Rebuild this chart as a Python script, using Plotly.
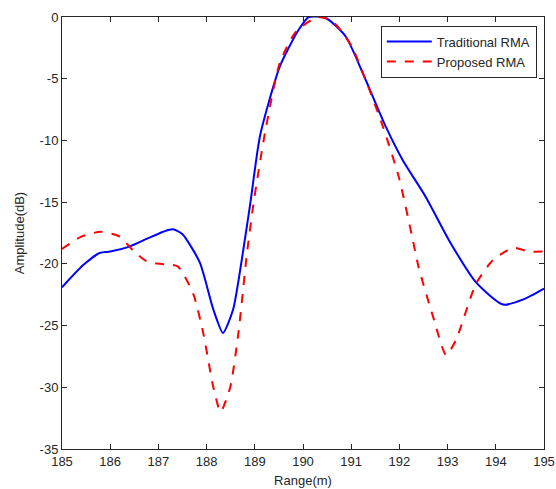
import plotly.graph_objects as go

trad_x = [185, 185.44, 185.79, 186.0, 186.4, 186.8, 187.1, 187.3, 187.5, 187.86, 188.14, 188.34,
          188.55, 188.76, 188.91, 189.11, 189.52, 189.9, 190.12, 190.48, 190.89, 191.3, 191.72,
          192.07, 192.55, 193.03, 193.59, 194.15, 194.56, 195]
trad_y = [-21.9, -20.1, -19.1, -19.0, -18.6, -17.9, -17.4, -17.2, -17.6, -19.9, -23.7, -25.6,
          -23.7, -18.9, -15.0, -9.6, -4.0, -1.1, 0.0, -0.1, -1.6, -5.1, -8.9,
          -11.6, -14.6, -18.1, -21.5, -23.3, -22.9, -22.0]

prop_x = [185, 185.4, 185.8, 186.2, 186.47, 186.76, 187.03, 187.4, 187.72, 187.93, 188.14, 188.29,
          188.49, 188.66, 188.83, 188.97, 189.21, 189.52, 189.85, 190.3, 190.6, 191.0, 191.3, 191.66,
          191.99, 192.28, 192.4, 192.7, 192.97, 193.17, 193.59, 193.94, 194.36, 194.69, 195]
prop_y = [-18.8, -17.8, -17.4, -17.8, -18.9, -19.8, -20.0, -20.2, -22.4, -25.6, -30.0, -32.0,
          -30.0, -25.6, -19.4, -15.2, -9.4, -3.7, -1.2, 0.0, -0.3, -2.3, -5.1, -8.9,
          -13.0, -18.1, -20.3, -24.3, -27.4, -26.2, -21.6, -19.7, -18.7, -19.0, -19.0]

x_ticks = list(range(185, 196))
y_ticks = list(range(-35, 1, 5))

fig = go.Figure()
fig.add_trace(go.Scatter(x=trad_x, y=trad_y, mode="lines", name="Traditional RMA",
                         line=dict(color="#0000ff", width=2, shape="spline", smoothing=0.6)))
fig.add_trace(go.Scatter(x=prop_x, y=prop_y, mode="lines", name="Proposed RMA",
                         line=dict(color="#ff0000", width=2, dash="dash", shape="spline", smoothing=0.6)))

axis_common = dict(showgrid=False, zeroline=False, showline=True, linecolor="#262626", linewidth=1,
                   mirror="allticks", ticks="inside", ticklen=5, tickcolor="#262626",
                   automargin=False,
                   tickfont=dict(family="Liberation Sans, Arial", size=13, color="#262626"))

fig.update_layout(
    width=556, height=489,
    margin=dict(l=62, r=12, t=17, b=40),
    paper_bgcolor="white", plot_bgcolor="white",
    font=dict(family="Liberation Sans, Arial", size=13, color="#262626"),
    xaxis=dict(range=[185, 195], tickvals=x_ticks, ticktext=[str(v) for v in x_ticks],
               title=dict(text="Range(m)", standoff=8, font=dict(size=13)), **axis_common),
    yaxis=dict(range=[-35, 0], tickvals=y_ticks, ticktext=[str(v) for v in y_ticks],
               title=dict(text="Amplitude(dB)", standoff=12, font=dict(size=13)), **axis_common),
    legend=dict(x=0.985, y=0.98, xanchor="right", yanchor="top", bgcolor="white",
                bordercolor="#262626", borderwidth=1, font=dict(size=13),
                tracegroupgap=0, itemwidth=45),
    showlegend=True,
)

fig.write_html("out.html", config={"displayModeBar": False},
               post_script="document.body.style.margin='0px';"
                           "document.documentElement.style.overflow='hidden';")
